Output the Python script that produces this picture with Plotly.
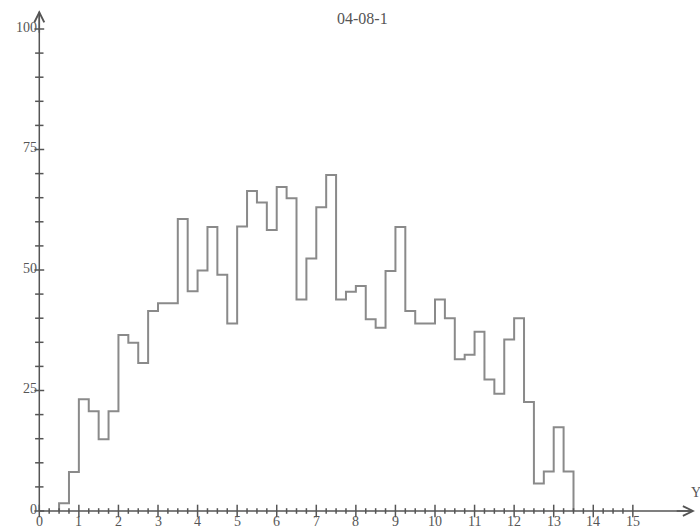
import plotly.graph_objects as go

# ---- data ----
bin_width = 0.25
bin_start = 0.5
counts = [1.6, 8.1, 23.2, 20.7, 14.9, 20.7, 36.5, 34.9, 30.7, 41.5,
          43.1, 43.1, 60.6, 45.6, 49.9, 58.9, 49.0, 38.9, 59.0, 66.4,
          64.0, 58.3, 67.2, 64.9, 43.9, 52.4, 63.0, 69.7, 43.9, 45.5,
          46.7, 39.8, 38.0, 49.8, 58.9, 41.5, 38.9, 38.9, 43.9, 40.0,
          31.5, 32.4, 37.2, 27.3, 24.3, 35.6, 40.0, 22.6, 5.7, 8.2,
          17.4, 8.2]
x_tick_labels = [str(i) for i in range(16)]
x_tick_vals = list(range(16))
y_tick_vals = [0, 25, 50, 75, 100]
y_tick_labels = ["0", "25", "50", "75", "100"]
title_text = "04-08-1"
x_axis_label = "Y"

# ---- build step outline ----
edges = [bin_start + i * bin_width for i in range(len(counts) + 1)]
step_x = [edges[0]] + edges
step_y = [0] + counts + [0]

AX = "#555555"
LINE = "#8a8a8a"
FONT = "Liberation Serif"

W, H = 700, 532
X0PX, XSCALE = 39.3, 39.57
Y0PX, YSCALE = 511, 4.82

fig = go.Figure()

fig.add_trace(go.Scatter(x=step_x, y=step_y, mode="lines", line_shape="hv",
                         line=dict(color=LINE, width=2), hoverinfo="skip"))

x_end = 16.57
y_end = 103.9

# axis lines
fig.add_trace(go.Scatter(x=[0, x_end - 0.05], y=[0, 0], mode="lines",
                         line=dict(color=AX, width=1.5), hoverinfo="skip"))
fig.add_trace(go.Scatter(x=[0, 0], y=[0, y_end - 0.3], mode="lines",
                         line=dict(color=AX, width=1.5), hoverinfo="skip"))

# x ticks
minor_x = [i * 0.25 for i in range(0, 61) if i % 4 != 0]
fig.add_trace(go.Scatter(x=minor_x, y=[0] * len(minor_x), mode="markers",
                         marker=dict(symbol="line-ns", size=4,
                                     line=dict(color=AX, width=1.5)),
                         hoverinfo="skip"))
fig.add_trace(go.Scatter(x=x_tick_vals, y=[0] * len(x_tick_vals), mode="markers",
                         marker=dict(symbol="line-ns", size=9,
                                     line=dict(color=AX, width=1.5)),
                         hoverinfo="skip"))
# y ticks
minor_y = [v for v in range(0, 101, 5) if v % 25 != 0]
fig.add_trace(go.Scatter(x=[0] * len(minor_y), y=minor_y, mode="markers",
                         marker=dict(symbol="line-ew", size=6,
                                     line=dict(color=AX, width=1.5)),
                         hoverinfo="skip"))
fig.add_trace(go.Scatter(x=[0] * len(y_tick_vals), y=y_tick_vals, mode="markers",
                         marker=dict(symbol="line-ew", size=7,
                                     line=dict(color=AX, width=1.5)),
                         hoverinfo="skip"))

# axis name "Y" near the arrow tip
fig.add_trace(go.Scatter(x=[x_end + 0.03], y=[3.7], mode="text", text=[x_axis_label],
                         textposition="middle center", cliponaxis=False,
                         textfont=dict(family=FONT, size=14, color="#555"),
                         hoverinfo="skip"))

annotations = []
for v, t in zip(x_tick_vals, x_tick_labels):
    annotations.append(dict(x=v, y=0, text=t, showarrow=False, xanchor="center",
                            yanchor="top", yshift=-1,
                            font=dict(family=FONT, size=14, color="#555")))
for v, t in zip(y_tick_vals, y_tick_labels):
    annotations.append(dict(x=0, y=v, text=t, showarrow=False, xanchor="right",
                            yanchor="middle", xshift=0, yshift=2,
                            font=dict(family=FONT, size=14, color="#555")))
# arrows
annotations.append(dict(x=x_end, y=0, ax=x_end - 0.5, ay=0, axref="x", ayref="y",
                        xref="x", yref="y", showarrow=True, arrowhead=5,
                        arrowsize=1.3, arrowwidth=1.5, arrowcolor=AX, text=""))
annotations.append(dict(x=0, y=y_end, ax=0, ay=y_end - 5, axref="x", ayref="y",
                        xref="x", yref="y", showarrow=True, arrowhead=5,
                        arrowsize=1.3, arrowwidth=1.5, arrowcolor=AX, text=""))
annotations.append(dict(x=362 / W, y=1 - 18 / H, xref="paper", yref="paper",
                        xanchor="center", yanchor="middle",
                        text=title_text, showarrow=False,
                        font=dict(family=FONT, size=16, color="#555")))

fig.update_layout(
    width=W, height=H,
    margin=dict(l=0, r=0, t=0, b=0),
    paper_bgcolor="white", plot_bgcolor="white",
    showlegend=False,
    hovermode=False,
    xaxis=dict(range=[-X0PX / XSCALE, (W - X0PX) / XSCALE], visible=False, fixedrange=True),
    yaxis=dict(range=[(Y0PX - H) / YSCALE, Y0PX / YSCALE], visible=False, fixedrange=True),
    annotations=annotations,
)

fig.write_html("out.html",
               config={"displayModeBar": False, "staticPlot": True},
               post_script="document.body.style.margin='0';"
                           "document.body.style.overflow='hidden';")
